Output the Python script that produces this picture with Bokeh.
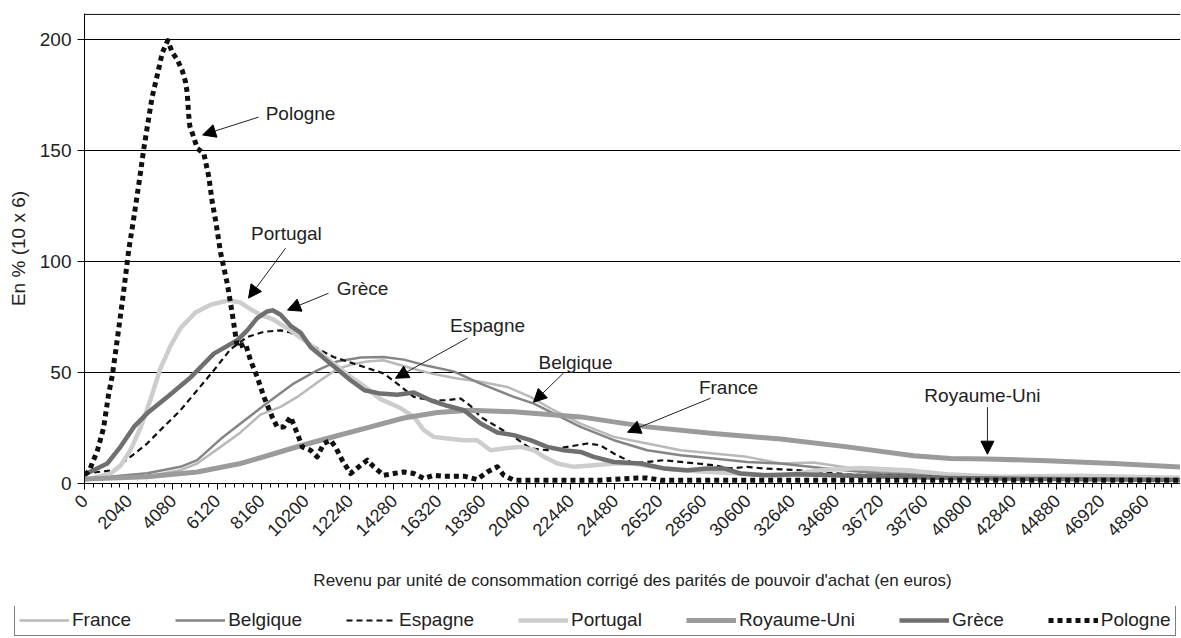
import math
from bokeh.plotting import figure
from bokeh.layouts import column
from bokeh.models import (FixedTicker, Range1d, Legend, LegendItem, Arrow,
                          NormalHead, Label, Span)
from bokeh.embed import file_html
from bokeh.resources import INLINE

# ---------------- data ----------------
x_ticks = [0, 2040, 4080, 6120, 8160, 10200, 12240, 14280, 16320, 18360, 20400,
           22440, 24480, 26520, 28560, 30600, 32640, 34680, 36720, 38760, 40800,
           42840, 44880, 46920, 48960]
x_tick_labels = ["0", "2040", "4080", "6120", "8160", "10200", "12240", "14280",
                 "16320", "18360", "20400", "22440", "24480", "26520", "28560",
                 "30600", "32640", "34680", "36720", "38760", "40800", "42840",
                 "44880", "46920", "48960"]
y_ticks = [0, 50, 100, 150, 200]

fra_x = [0, 3050, 4430, 5200, 6280, 7200, 8120, 9050, 9820, 10890, 11660, 12280,
         13050, 13800, 15050, 15970, 17200, 18280, 19510, 20580, 21660, 22890,
         24430, 25970, 27510, 29040, 30580, 32120, 33640, 35350, 36740, 39970,
         44580, 51000]
fra_y = [1.5, 3.5, 6, 9, 16.5, 23, 31, 34.5, 39, 46.5, 51.5, 53.5, 55, 55.5, 52,
         49.6, 47.3, 45.8, 43.5, 39, 33, 27, 21, 18, 15, 13.5, 12, 9, 9.5, 7, 5.2,
         3.5, 2.5, 2]

bel_x = [0, 2890, 4430, 5200, 6280, 7200, 8260, 9650, 10740, 11660, 12740, 13800,
         14740, 15820, 17030, 18280, 19810, 20740, 21660, 22890, 24430, 25970,
         27510, 29040, 30580, 32120, 34430, 36740, 39970, 44580, 51000]
bel_y = [2, 4.6, 7.5, 10.5, 20, 27, 35, 45, 51, 55, 56.8, 57, 55.8, 53, 50.5, 45,
         39, 36, 31.5, 25.5, 19.5, 15, 12.7, 11.3, 9.7, 9, 6.5, 4.5, 3.5, 2.5, 2]

esp_x = [0, 125, 1340, 2120, 2890, 3650, 4430, 5200, 5970, 6740, 7510, 8260, 9050,
         9510, 9970, 10890, 11490, 12280, 13050, 13800, 14430, 15200, 15970,
         16740, 17350, 17810, 18280, 19050, 19810, 20580, 21350, 22280, 23200,
         23810, 24430, 25350, 25970, 26740, 27510, 28280, 29040, 29810, 30580,
         31350, 32890, 35350, 39970, 44580, 51000]
esp_y = [4, 4.6, 6, 12, 18, 25.5, 33, 42, 51, 60.5, 66, 68.3, 69, 68, 65.5, 60,
         57, 54.5, 52, 49.6, 45, 39, 37.5, 37.5, 38.3, 35, 30, 25.5, 21, 15.8, 15,
         16.5, 18, 17.2, 13.5, 9, 9.7, 10.5, 9.7, 9, 8.2, 6.8, 7.5, 6.8, 6, 4, 3,
         2, 1.5]

por_x = [0, 1200, 1660, 2120, 2580, 3050, 3510, 3970, 4430, 5120, 5820, 6650,
         7200, 7660, 8120, 8680, 9510, 10570, 11490, 12280, 12740, 13660, 14580,
         15200, 15660, 16120, 16740, 17510, 18120, 18740, 19350, 20120, 20740,
         21200, 21820, 22580, 23500, 24430, 25350, 26580, 27510, 29350, 32120,
         33970, 35810, 37980, 39970, 42270, 45970, 51000]
por_y = [1.5, 4.5, 8, 15, 25, 38, 52, 62, 70, 77, 80.5, 82.5, 81.5, 78.5, 76, 74,
         69, 61.5, 54, 48, 45, 38, 34, 30, 24, 21, 20.3, 19.5, 19.5, 15, 15.8,
         16.5, 15, 12, 9, 7.5, 8.2, 9, 9, 7, 6, 5, 3.5, 6, 7, 6, 4, 3, 3.5, 2.5]

ru_x = [0, 2890, 5200, 7200, 8430, 9970, 11660, 13200, 14740, 16280, 17810,
        19800, 22890, 25970, 29030, 32120, 35200, 38270, 39970, 41660, 44430,
        47500, 51000]
ru_y = [2, 3, 5.2, 9, 12.5, 17, 21.5, 25.5, 29.5, 32, 33, 32.3, 30, 25.5, 22.5,
        20, 16.5, 12.5, 11.3, 11, 10.3, 9, 7.2]

gre_x = [0, 125, 1050, 1660, 2280, 2890, 3820, 4920, 5970, 7050, 7510, 7970,
         8430, 8680, 9050, 9510, 9970, 10430, 11350, 12280, 12920, 13660, 14430,
         15200, 15970, 16740, 17510, 18280, 19050, 19810, 20580, 21350, 22120,
         22890, 23500, 24430, 25660, 26740, 27820, 28740, 29510, 30270, 31350,
         32890, 35350, 39970, 44580, 51000]
gre_y = [4, 4.6, 9, 16.5, 25.5, 31.6, 39, 48, 58.5, 64.5, 69, 74.5, 77.5, 78, 76,
         71, 68, 61.5, 54, 46.5, 42, 40.5, 40, 41, 37.5, 35, 33, 27, 23, 21.8,
         19.5, 16.5, 15, 14.2, 12, 9.7, 9, 6.8, 6, 6.8, 6.8, 4.5, 3.7, 4.2, 3.5,
         2.5, 2, 1.5]

pol_x = [0, 140, 230, 600, 880, 1110, 1290, 1570, 1800, 2040, 2280, 2510, 2740,
         2970, 3120, 3360, 3590, 3840, 4060, 4280, 4510, 4660, 4740, 4810, 4860,
         5040, 5200, 5510, 5740, 5890, 6050, 6280, 6590, 6820, 7050, 7200, 7430,
         7660, 7970, 8280, 8660, 8890, 9200, 9510, 9820, 10050, 10430, 10740,
         11040, 11350, 11580, 11890, 12280, 12590, 13050, 13350, 13810, 14270,
         14740, 15200, 15660, 16120, 16570, 17510, 18120, 18590, 19050, 19350,
         19810, 23810, 25510, 25970, 26580, 51000]
pol_y = [4, 5, 6, 15, 25, 40, 49, 69, 86, 105, 120, 135, 151, 165, 174, 184, 194,
         199.5, 194, 191, 186, 181, 176, 166, 161, 156, 151, 148.5, 138, 127,
         118.5, 104, 90, 76.5, 61.5, 62, 63, 55.5, 48, 39, 30, 25.5, 25.5, 30,
         22.5, 16.5, 15, 12, 18, 19.5, 16.5, 10.5, 4.5, 7, 10.5, 7.5, 3.7, 4.5,
         5.2, 4.5, 2.3, 3.7, 3.3, 3.3, 1.8, 5.2, 7.5, 3.7, 1.5, 1.5, 2.5, 2.5,
         1.5, 1.5]

series_names = ["France", "Belgique", "Espagne", "Portugal", "Royaume-Uni",
                "Grèce", "Pologne"]

# annotations: text, text position, arrow start, arrow end (data coords)
notes = [
    ("Pologne", 9970, 166.5, 8030, 165.0, 5450, 157.0),
    ("Portugal", 9320, 112.7, 9280, 106.0, 7570, 83.5),
    ("Grèce", 12830, 88.0, 11260, 85.7, 9370, 78.1),
    ("Espagne", 18600, 71.3, 17680, 65.5, 14350, 47.4),
    ("Belgique", 22660, 54.6, 22100, 49.7, 20720, 36.6),
    ("France", 29720, 43.4, 28890, 38.4, 25060, 23.1),
    ("Royaume-Uni", 41440, 39.8, 41670, 34.4, 41670, 13.2),
]

# ---------------- figure ----------------
FONT = "Liberation Sans"
TXT = "#222222"
W = 1180

p = figure(width=W, height=606, output_backend="svg", toolbar_location=None,
           x_range=Range1d(0, 50580), y_range=Range1d(0, 211.7),
           min_border_left=84, min_border_right=0, min_border_top=13,
           min_border_bottom=123)
p.outline_line_color = None
p.background_fill_color = "white"
p.border_fill_color = "white"

# top frame line
p.add_layout(Span(location=211.3, dimension="width", line_color="black",
                  line_width=1))

# grid
p.xgrid.visible = False
p.ygrid.ticker = FixedTicker(ticks=[50, 100, 150, 200])
p.ygrid.grid_line_color = "black"
p.ygrid.grid_line_width = 1
p.ygrid.grid_line_alpha = 1

# axes
xa = p.xaxis[0]
xa.ticker = FixedTicker(ticks=x_ticks, minor_ticks=list(range(0, 50581, 408)))
xa.major_label_overrides = {t: l for t, l in zip(x_ticks, x_tick_labels)}
xa.major_label_orientation = math.pi / 4
xa.major_label_text_font = FONT
xa.major_label_text_font_size = "18px"
xa.major_label_text_color = TXT
xa.major_label_standoff = 8
xa.axis_line_color = "black"
xa.major_tick_line_color = "black"
xa.minor_tick_line_color = "black"
xa.major_tick_out = 6
xa.major_tick_in = 0
xa.minor_tick_out = 4
xa.minor_tick_in = 0
xa.axis_label = ("Revenu par unité de consommation corrigé des parités "
                 "de pouvoir d'achat (en euros)")
xa.axis_label_text_font = FONT
xa.axis_label_text_font_size = "17px"
xa.axis_label_text_font_style = "normal"
xa.axis_label_text_color = TXT
xa.axis_label_standoff = 26

ya = p.yaxis[0]
ya.ticker = FixedTicker(ticks=y_ticks)
ya.major_label_text_font = FONT
ya.major_label_text_font_size = "19px"
ya.major_label_text_color = TXT
ya.major_label_standoff = 6
ya.axis_line_color = "black"
ya.major_tick_out = 7
ya.major_tick_in = 0
ya.minor_tick_line_color = None
ya.axis_label = "En % (10 x 6)"
ya.axis_label_text_font = FONT
ya.axis_label_text_font_size = "19px"
ya.axis_label_text_font_style = "normal"
ya.axis_label_text_color = TXT
ya.axis_label_standoff = 8

# ---------------- series ----------------
series = [(fra_x, fra_y), (bel_x, bel_y), (esp_x, esp_y), (por_x, por_y),
          (ru_x, ru_y), (gre_x, gre_y), (pol_x, pol_y)]
styles = [
    dict(line_color="#b9b9b9", line_width=2.5),
    dict(line_color="#858585", line_width=2.5),
    dict(line_color="#111111", line_width=2.2, line_dash="6 4"),
    dict(line_color="#cdcdcd", line_width=4.5),
    dict(line_color="#9b9b9b", line_width=5),
    dict(line_color="#6f6f6f", line_width=4.5),
    dict(line_color="#111111", line_width=5, line_dash="5 4"),
]
for (xs, ys), st in zip(series, styles):
    p.line(xs, ys, line_join="round", **st)

# ---------------- annotations ----------------
for txt, tx, ty, ax0, ay0, ax1, ay1 in notes:
    p.add_layout(Label(x=tx, y=ty, text=txt, text_align="center",
                       text_baseline="middle", text_font=FONT,
                       text_font_size="19px", text_color=TXT))
    p.add_layout(Arrow(x_start=ax0, y_start=ay0, x_end=ax1, y_end=ay1,
                       line_color="#222222", line_width=1,
                       end=NormalHead(size=13, fill_color="black",
                                      line_color="black")))

# ---------------- legend (separate strip below) ----------------
# the strip's ranges keep its copies of the series out of view;
# only the legend box is visible there
leg = figure(width=W, height=31, output_backend="svg", toolbar_location=None,
             x_range=Range1d(0, 1), y_range=Range1d(-10, -5), min_border=0,
             x_axis_location=None, y_axis_location=None)
leg.frame_align = False
p.frame_align = False
leg.outline_line_color = None
leg.grid.visible = False
leg_renderers = []
for (xs, ys), st in zip(series, styles):
    leg_renderers.append(leg.line(xs, ys, **st))
items = [LegendItem(label=n, renderers=[r])
         for n, r in zip(series_names, leg_renderers)]
legend = Legend(items=items, orientation="horizontal", location=(14, 1),
                label_text_font=FONT, label_text_font_size="19px",
                label_text_color=TXT, glyph_width=50, glyph_height=18,
                label_height=18, label_standoff=3, spacing=44, padding=4,
                margin=0, border_line_color="black", border_line_width=1,
                background_fill_color="white", background_fill_alpha=1)
leg.add_layout(legend)

layout = column(p, leg, spacing=0)
open("out.html", "w").write(file_html(layout, INLINE))
